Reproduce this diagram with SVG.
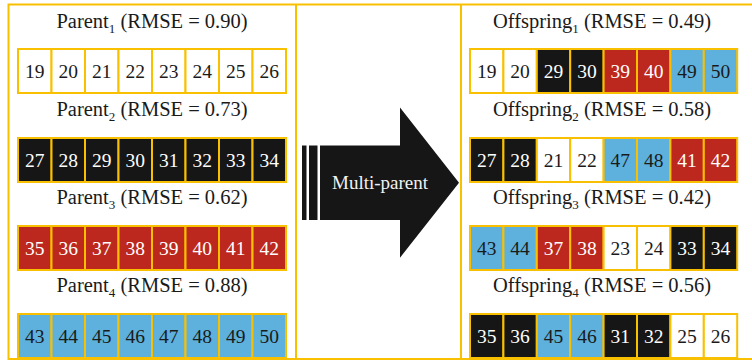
<svg xmlns="http://www.w3.org/2000/svg" width="752" height="362" viewBox="0 0 752 362" font-family="Liberation Serif, Times New Roman, serif">
<style>
.frame{fill:none;stroke:#F9C000;stroke-width:2}
.c{stroke:#F9C000;stroke-width:2}
.w{fill:#ffffff}
.k{fill:#161616}
.r{fill:#BC281D}
.b{fill:#5DB1DC}
text{font-family:'Liberation Serif','Times New Roman',serif}
.t{font-size:20.5px;fill:#1a1a1a;text-anchor:middle}
.n{font-size:19.5px;text-anchor:middle}
.nd{fill:#1a1a1a}
.nl{fill:#ffffff}
.sub{font-size:13px}
</style>
<rect width="752" height="362" fill="#ffffff"/>
<g id="frames">
<path class="frame" d="M752 4.5H8.5V359H752M296 4.5V359M461 4.5V359"/>
</g>
<g id="parent1">
<text class="t" x="152" y="28">Parent<tspan class="sub" dy="5">1</tspan><tspan dy="-5"> (RMSE = 0.90)</tspan></text>
<g class="c">
<rect class="w" x="18" y="49" width="33.5" height="44"/><rect class="w" x="51.5" y="49" width="33.5" height="44"/><rect class="w" x="85" y="49" width="33.5" height="44"/><rect class="w" x="118.5" y="49" width="33.5" height="44"/><rect class="w" x="152" y="49" width="33.5" height="44"/><rect class="w" x="185.5" y="49" width="33.5" height="44"/><rect class="w" x="219" y="49" width="33.5" height="44"/><rect class="w" x="252.5" y="49" width="33.5" height="44"/>
</g>
<g class="n nd">
<text x="34.75" y="78">19</text><text x="68.25" y="78">20</text><text x="101.75" y="78">21</text><text x="135.25" y="78">22</text><text x="168.75" y="78">23</text><text x="202.25" y="78">24</text><text x="235.75" y="78">25</text><text x="269.25" y="78">26</text>
</g>
</g>
<g id="parent2">
<text class="t" x="152" y="116">Parent<tspan class="sub" dy="5">2</tspan><tspan dy="-5"> (RMSE = 0.73)</tspan></text>
<g class="c">
<rect class="k" x="18" y="138" width="33.5" height="44"/><rect class="k" x="51.5" y="138" width="33.5" height="44"/><rect class="k" x="85" y="138" width="33.5" height="44"/><rect class="k" x="118.5" y="138" width="33.5" height="44"/><rect class="k" x="152" y="138" width="33.5" height="44"/><rect class="k" x="185.5" y="138" width="33.5" height="44"/><rect class="k" x="219" y="138" width="33.5" height="44"/><rect class="k" x="252.5" y="138" width="33.5" height="44"/>
</g>
<g class="n nl">
<text x="34.75" y="167">27</text><text x="68.25" y="167">28</text><text x="101.75" y="167">29</text><text x="135.25" y="167">30</text><text x="168.75" y="167">31</text><text x="202.25" y="167">32</text><text x="235.75" y="167">33</text><text x="269.25" y="167">34</text>
</g>
</g>
<g id="parent3">
<text class="t" x="152" y="204">Parent<tspan class="sub" dy="5">3</tspan><tspan dy="-5"> (RMSE = 0.62)</tspan></text>
<g class="c">
<rect class="r" x="18" y="226" width="33.5" height="44"/><rect class="r" x="51.5" y="226" width="33.5" height="44"/><rect class="r" x="85" y="226" width="33.5" height="44"/><rect class="r" x="118.5" y="226" width="33.5" height="44"/><rect class="r" x="152" y="226" width="33.5" height="44"/><rect class="r" x="185.5" y="226" width="33.5" height="44"/><rect class="r" x="219" y="226" width="33.5" height="44"/><rect class="r" x="252.5" y="226" width="33.5" height="44"/>
</g>
<g class="n nl">
<text x="34.75" y="255">35</text><text x="68.25" y="255">36</text><text x="101.75" y="255">37</text><text x="135.25" y="255">38</text><text x="168.75" y="255">39</text><text x="202.25" y="255">40</text><text x="235.75" y="255">41</text><text x="269.25" y="255">42</text>
</g>
</g>
<g id="parent4">
<text class="t" x="152" y="292">Parent<tspan class="sub" dy="5">4</tspan><tspan dy="-5"> (RMSE = 0.88)</tspan></text>
<g class="c">
<rect class="b" x="18" y="314" width="33.5" height="44"/><rect class="b" x="51.5" y="314" width="33.5" height="44"/><rect class="b" x="85" y="314" width="33.5" height="44"/><rect class="b" x="118.5" y="314" width="33.5" height="44"/><rect class="b" x="152" y="314" width="33.5" height="44"/><rect class="b" x="185.5" y="314" width="33.5" height="44"/><rect class="b" x="219" y="314" width="33.5" height="44"/><rect class="b" x="252.5" y="314" width="33.5" height="44"/>
</g>
<g class="n nd">
<text x="34.75" y="343">43</text><text x="68.25" y="343">44</text><text x="101.75" y="343">45</text><text x="135.25" y="343">46</text><text x="168.75" y="343">47</text><text x="202.25" y="343">48</text><text x="235.75" y="343">49</text><text x="269.25" y="343">50</text>
</g>
</g>
<g id="arrow">
<rect class="k" x="302" y="145.5" width="4.5" height="74.5"/>
<rect class="k" x="309" y="145.5" width="8.5" height="74.5"/>
<path class="k" d="M320 145.5H400V107.5L459 182.7L400 257.7V220H320Z"/>
<text class="n" x="380" y="189" style="fill:#f2f2f2;font-size:19px">Multi-parent</text>
</g>
<g id="offspring1">
<text class="t" x="602" y="28">Offspring<tspan class="sub" dy="5">1</tspan><tspan dy="-5"> (RMSE = 0.49)</tspan></text>
<g class="c">
<rect class="w" x="470" y="49" width="33.4" height="44"/><rect class="w" x="503.4" y="49" width="33.4" height="44"/><rect class="k" x="536.8" y="49" width="33.4" height="44"/><rect class="k" x="570.2" y="49" width="33.4" height="44"/><rect class="r" x="603.6" y="49" width="33.4" height="44"/><rect class="r" x="637" y="49" width="33.4" height="44"/><rect class="b" x="670.4" y="49" width="33.4" height="44"/><rect class="b" x="703.8" y="49" width="33.4" height="44"/>
</g>
<g class="n">
<text class="nd" x="486.7" y="78">19</text><text class="nd" x="520.1" y="78">20</text><text class="nl" x="553.5" y="78">29</text><text class="nl" x="586.9" y="78">30</text><text class="nl" x="620.3" y="78">39</text><text class="nl" x="653.7" y="78">40</text><text class="nd" x="687.1" y="78">49</text><text class="nd" x="720.5" y="78">50</text>
</g>
</g>
<g id="offspring2">
<text class="t" x="602" y="116">Offspring<tspan class="sub" dy="5">2</tspan><tspan dy="-5"> (RMSE = 0.58)</tspan></text>
<g class="c">
<rect class="k" x="470" y="138" width="33.4" height="44"/><rect class="k" x="503.4" y="138" width="33.4" height="44"/><rect class="w" x="536.8" y="138" width="33.4" height="44"/><rect class="w" x="570.2" y="138" width="33.4" height="44"/><rect class="b" x="603.6" y="138" width="33.4" height="44"/><rect class="b" x="637" y="138" width="33.4" height="44"/><rect class="r" x="670.4" y="138" width="33.4" height="44"/><rect class="r" x="703.8" y="138" width="33.4" height="44"/>
</g>
<g class="n">
<text class="nl" x="486.7" y="167">27</text><text class="nl" x="520.1" y="167">28</text><text class="nd" x="553.5" y="167">21</text><text class="nd" x="586.9" y="167">22</text><text class="nd" x="620.3" y="167">47</text><text class="nd" x="653.7" y="167">48</text><text class="nl" x="687.1" y="167">41</text><text class="nl" x="720.5" y="167">42</text>
</g>
</g>
<g id="offspring3">
<text class="t" x="602" y="204">Offspring<tspan class="sub" dy="5">3</tspan><tspan dy="-5"> (RMSE = 0.42)</tspan></text>
<g class="c">
<rect class="b" x="470" y="226" width="33.4" height="44"/><rect class="b" x="503.4" y="226" width="33.4" height="44"/><rect class="r" x="536.8" y="226" width="33.4" height="44"/><rect class="r" x="570.2" y="226" width="33.4" height="44"/><rect class="w" x="603.6" y="226" width="33.4" height="44"/><rect class="w" x="637" y="226" width="33.4" height="44"/><rect class="k" x="670.4" y="226" width="33.4" height="44"/><rect class="k" x="703.8" y="226" width="33.4" height="44"/>
</g>
<g class="n">
<text class="nd" x="486.7" y="255">43</text><text class="nd" x="520.1" y="255">44</text><text class="nl" x="553.5" y="255">37</text><text class="nl" x="586.9" y="255">38</text><text class="nd" x="620.3" y="255">23</text><text class="nd" x="653.7" y="255">24</text><text class="nl" x="687.1" y="255">33</text><text class="nl" x="720.5" y="255">34</text>
</g>
</g>
<g id="offspring4">
<text class="t" x="602" y="292">Offspring<tspan class="sub" dy="5">4</tspan><tspan dy="-5"> (RMSE = 0.56)</tspan></text>
<g class="c">
<rect class="k" x="470" y="314" width="33.4" height="44"/><rect class="k" x="503.4" y="314" width="33.4" height="44"/><rect class="b" x="536.8" y="314" width="33.4" height="44"/><rect class="b" x="570.2" y="314" width="33.4" height="44"/><rect class="k" x="603.6" y="314" width="33.4" height="44"/><rect class="k" x="637" y="314" width="33.4" height="44"/><rect class="w" x="670.4" y="314" width="33.4" height="44"/><rect class="w" x="703.8" y="314" width="33.4" height="44"/>
</g>
<g class="n">
<text class="nl" x="486.7" y="343">35</text><text class="nl" x="520.1" y="343">36</text><text class="nd" x="553.5" y="343">45</text><text class="nd" x="586.9" y="343">46</text><text class="nl" x="620.3" y="343">31</text><text class="nl" x="653.7" y="343">32</text><text class="nd" x="687.1" y="343">25</text><text class="nd" x="720.5" y="343">26</text>
</g>
</g>
</svg>
